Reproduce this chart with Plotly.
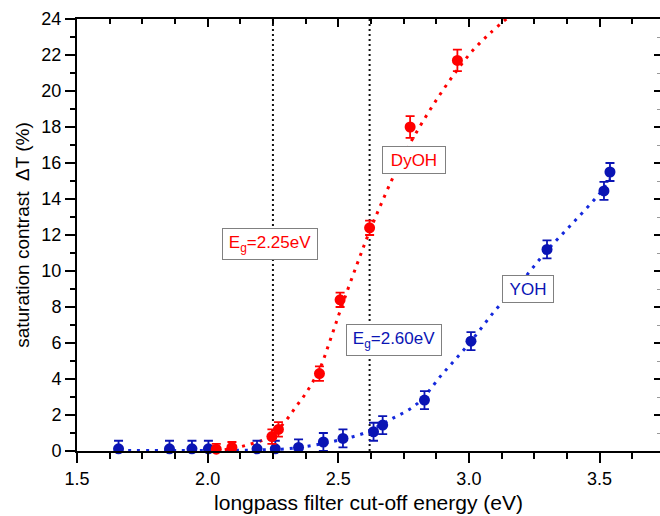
import plotly.graph_objects as go

# DyOH measured points
dy_x = [2.033, 2.093, 2.246, 2.271, 2.428, 2.507, 2.620, 2.775, 2.956]
dy_y = [0.1, 0.2, 0.8, 1.2, 4.3, 8.4, 12.4, 18.0, 21.7]
dy_err = [0.3, 0.3, 0.4, 0.4, 0.4, 0.4, 0.4, 0.6, 0.6]

# DyOH fit curve
dy_fit_x = [2.03, 2.10, 2.15, 2.21, 2.25, 2.30, 2.34, 2.38, 2.43, 2.47, 2.51,
            2.57, 2.62, 2.70, 2.76, 2.88, 3.00, 3.08, 3.16]
dy_fit_y = [0.02, 0.15, 0.33, 0.6, 0.95, 1.7, 2.5, 3.3, 4.6, 6.2, 7.9,
            10.3, 12.2, 14.9, 16.7, 19.6, 22.0, 23.2, 24.2]

# YOH measured points
y_x = [1.659, 1.854, 1.940, 2.003, 2.189, 2.259, 2.348, 2.443, 2.518, 2.635,
       2.670, 2.830, 3.008, 3.299, 3.517, 3.540]
y_y = [0.12, 0.12, 0.12, 0.12, 0.12, 0.12, 0.2, 0.5, 0.7, 1.07,
       1.44, 2.83, 6.1, 11.2, 14.45, 15.5]
y_err = [0.45, 0.45, 0.45, 0.45, 0.45, 0.45, 0.45, 0.5, 0.5, 0.5,
         0.5, 0.5, 0.5, 0.5, 0.5, 0.5]

# YOH fit curve
y_fit_x = [1.66, 1.90, 2.10, 2.20, 2.30, 2.40, 2.50, 2.60, 2.70, 2.80, 2.90,
           3.00, 3.10, 3.20, 3.30, 3.40, 3.50, 3.54]
y_fit_y = [0.03, 0.03, 0.04, 0.06, 0.12, 0.3, 0.6, 1.0, 1.75, 2.6, 4.3,
           5.95, 7.8, 9.4, 11.15, 12.7, 14.3, 15.1]

# band-gap markers
gap_x = [2.25, 2.62]
y_range = [0, 24]

RED = "#ff0000"
BLUE_M = "#0a14b4"
BLUE_L = "#1428dc"
FONT = "Liberation Sans, Arial, sans-serif"

fig = go.Figure()

for gx in gap_x:
    fig.add_trace(go.Scatter(x=[gx, gx], y=y_range, mode="lines",
                             line=dict(color="#111111", width=2, dash="2px,3px"),
                             hoverinfo="skip", showlegend=False))

fig.add_trace(go.Scatter(x=dy_fit_x, y=dy_fit_y, mode="lines",
                         line=dict(color=RED, width=3, dash="3px,6px", shape="spline"),
                         showlegend=False, hoverinfo="skip"))
fig.add_trace(go.Scatter(x=y_fit_x, y=y_fit_y, mode="lines",
                         line=dict(color=BLUE_L, width=3, dash="3px,6px", shape="spline"),
                         showlegend=False, hoverinfo="skip"))

fig.add_trace(go.Scatter(x=y_x, y=y_y, mode="markers",
                         marker=dict(color=BLUE_M, size=11),
                         error_y=dict(type="data", array=y_err, color=BLUE_M,
                                      thickness=1.8, width=4.5),
                         showlegend=False, cliponaxis=False))
fig.add_trace(go.Scatter(x=dy_x, y=dy_y, mode="markers",
                         marker=dict(color=RED, size=11),
                         error_y=dict(type="data", array=dy_err, color=RED,
                                      thickness=1.8, width=4.5),
                         showlegend=False, cliponaxis=False))

# dummy trace for mirrored (inside-tick) axes
fig.add_trace(go.Scatter(x=[1.5], y=[0], xaxis="x2", yaxis="y2", mode="markers",
                         marker=dict(opacity=0), showlegend=False, hoverinfo="skip"))

x_range = [1.5, 3.7315]

fig.update_layout(
    width=660, height=516,
    margin=dict(l=77, r=0, t=19, b=65, autoexpand=False),
    paper_bgcolor="white", plot_bgcolor="white",
    font=dict(family=FONT, color="black"),
    xaxis=dict(range=x_range, showgrid=False, zeroline=False, automargin=False,
               showline=True, linecolor="black", linewidth=2,
               ticks="outside", ticklen=10, tickwidth=2, tickcolor="black",
               tick0=1.5, dtick=0.5, tickformat=".1f",
               minor=dict(ticks="outside", ticklen=6, tickwidth=1.5,
                          tickcolor="black", dtick=0.125, tick0=1.5),
               tickfont=dict(size=18),
               title=dict(text="longpass filter cut-off energy (eV)",
                          font=dict(size=21), standoff=8)),
    yaxis=dict(range=y_range, showgrid=False, zeroline=False, automargin=False,
               showline=True, linecolor="black", linewidth=2,
               ticks="outside", ticklen=10, tickwidth=2, tickcolor="black",
               tick0=0, dtick=2,
               minor=dict(ticks="outside", ticklen=5, tickwidth=1.5,
                          tickcolor="black", dtick=1),
               tickfont=dict(size=18),
               title=dict(text="saturation contrast  \u0394T (%)",
                          font=dict(size=19), standoff=7)),
    xaxis2=dict(range=x_range, overlaying="x", side="top", anchor="y",
                automargin=False,
                showgrid=False, zeroline=False, showline=True,
                linecolor="black", linewidth=2, showticklabels=False,
                ticks="inside", ticklen=8, tickwidth=2, tickcolor="black",
                tick0=1.5, dtick=0.5,
                minor=dict(ticks="inside", ticklen=5, tickwidth=1.5,
                           tickcolor="black", dtick=0.125, tick0=1.5)),
    yaxis2=dict(range=y_range, overlaying="y", side="right", anchor="x",
                automargin=False,
                showgrid=False, zeroline=False, showline=False,
                showticklabels=False,
                ticks="inside", ticklen=6, tickwidth=2, tickcolor="black",
                tick0=0, dtick=2,
                minor=dict(ticks="inside", ticklen=3, tickwidth=1,
                           tickcolor="#999999", dtick=1)),
)

box = dict(showarrow=False, bgcolor="white", bordercolor="#808080",
           borderwidth=1, borderpad=4, xref="x", yref="y")
fig.add_annotation(x=2.237, y=11.5, text="E<sub>g</sub>=2.25eV", width=86, height=22,
                   font=dict(size=17, color=RED, family=FONT), **box)
fig.add_annotation(x=2.713, y=6.14, text="E<sub>g</sub>=2.60eV", width=86, height=22,
                   font=dict(size=17, color=BLUE_M, family=FONT), **box)
fig.add_annotation(x=2.79, y=16.17, text="DyOH", width=54, height=18,
                   font=dict(size=17, color=RED, family=FONT), **box)
fig.add_annotation(x=3.228, y=9.0, text="YOH", width=42, height=18,
                   font=dict(size=17, color=BLUE_M, family=FONT), **box)

fig.write_html(
    "out.html",
    config={"displayModeBar": False},
    post_script="document.body.style.margin='0';document.body.style.overflow='hidden';",
)
